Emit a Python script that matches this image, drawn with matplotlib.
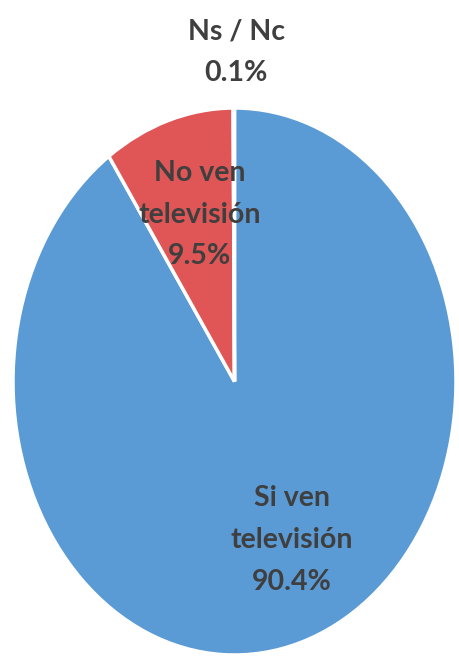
import matplotlib
matplotlib.use("Agg")
import matplotlib.pyplot as plt

# share of people who watch television
labels = ["Si ven\ntelevisión", "No ven\ntelevisión", "Ns / Nc"]
values = [90.4, 9.5, 0.1]
colors = ["#5B9BD5", "#E05656", "#A5A5A5"]

fig = plt.figure(figsize=(4.59, 6.61), dpi=100)
ax = fig.add_axes([13 / 459, 6 / 661, 443 / 459, 547 / 661])

ax.pie(values, colors=colors, startangle=90, counterclock=False,
       wedgeprops=dict(edgecolor="white", linewidth=2.5))
ax.set_aspect("auto")
ax.set_xlim(-1, 1)
ax.set_ylim(-1, 1)

# label anchor points (axes data coords), one per slice
label_pos = [(0.26, -0.58), (-0.156, 0.61), (0.007, 1.205)]
for lab, v, (x, y) in zip(labels, values, label_pos):
    ax.text(x, y, f"{lab}\n{v:.1f}%", ha="center", va="center",
            fontsize=20.5, fontweight="bold", family="Lato", color="#3F3F3F",
            linespacing=1.75, clip_on=False)

fig.savefig("out.png", dpi=100)
